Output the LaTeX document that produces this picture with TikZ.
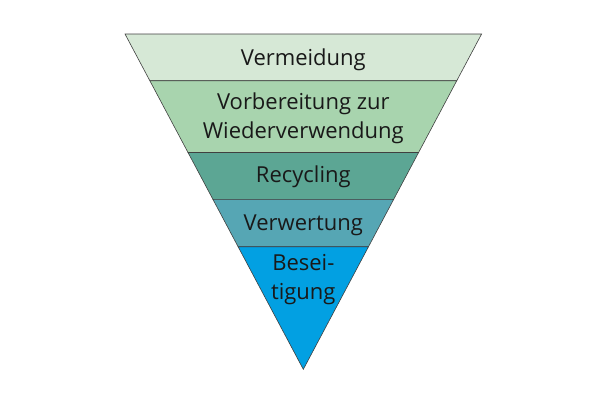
\documentclass[tikz,border=0pt]{standalone}
\usepackage{fontspec}
\setmainfont{Open Sans}
\usetikzlibrary{calc}
\definecolor{lvlone}{RGB}{214,232,214}
\definecolor{lvltwo}{RGB}{168,212,174}
\definecolor{lvlthree}{RGB}{92,166,148}
\definecolor{lvlfour}{RGB}{86,166,180}
\definecolor{lvlfive}{RGB}{2,160,226}
\tikzset{
  band/.style  = {draw=black!75, line width=0.6pt, line join=miter},
  lbl/.style   = {font=\fontsize{22}{29}\selectfont, align=center,
                  text=black!90, inner sep=0pt, anchor=base}
}
\begin{document}
\begin{tikzpicture}[x=1pt,y=-1pt]
  \useasboundingbox (0,0) rectangle (600,400);
  % corners of the funnel
  \coordinate (tl) at (125,34);
  \coordinate (tr) at (481.6,34);
  \coordinate (apex) at (303.3,369.3);
  % band borders
  \coordinate (l1) at ($(tl)!0.1393!(apex)$);
  \coordinate (r1) at ($(tr)!0.1393!(apex)$);
  \coordinate (l2) at ($(tl)!0.3534!(apex)$);
  \coordinate (r2) at ($(tr)!0.3534!(apex)$);
  \coordinate (l3) at ($(tl)!0.4930!(apex)$);
  \coordinate (r3) at ($(tr)!0.4930!(apex)$);
  \coordinate (l4) at ($(tl)!0.6344!(apex)$);
  \coordinate (r4) at ($(tr)!0.6344!(apex)$);
  \filldraw[band, fill=lvlone]   (tl) -- (tr) -- (r1) -- (l1) -- cycle;
  \filldraw[band, fill=lvltwo]   (l1) -- (r1) -- (r2) -- (l2) -- cycle;
  \filldraw[band, fill=lvlthree] (l2) -- (r2) -- (r3) -- (l3) -- cycle;
  \filldraw[band, fill=lvlfour]  (l3) -- (r3) -- (r4) -- (l4) -- cycle;
  \filldraw[band, fill=lvlfive]  (l4) -- (r4) -- (apex) -- cycle;
  % labels (base = last line)
  \node[lbl] (vermeidung) at (303.3,65) {Vermeidung};
  \node[lbl] (vorbereitung) at (303.3,138.3) {Vorbereitung zur\\Wiederverwendung};
  \node[lbl] (recycling) at (303.3,182.7) {Recycling};
  \node[lbl] (verwertung) at (303.3,230) {Verwertung};
  \node[lbl] (beseitigung) at (303.3,299) {Besei-\\tigung};
\end{tikzpicture}
\end{document}
